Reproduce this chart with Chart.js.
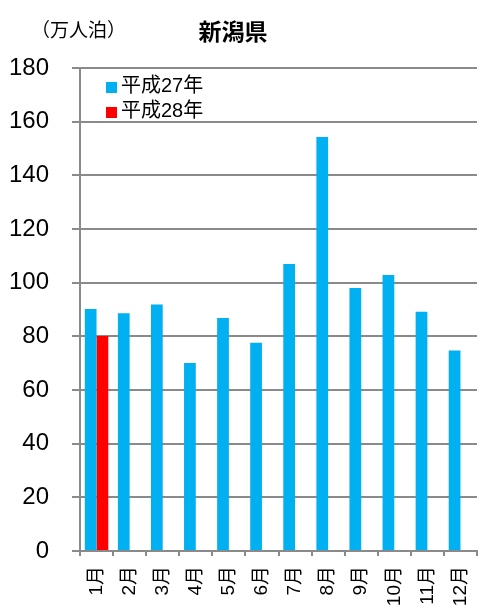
<!DOCTYPE html>
<html lang="ja">
<head>
  <meta charset="UTF-8">
  <title>新潟県</title>
  <script src="https://cdn.jsdelivr.net/npm/chart.js"></script>
  <style>
    html, body { margin: 0; padding: 0; background: #fff; }
    #wrap { width: 480px; height: 606px; position: relative; }
  </style>
</head>
<body>
<div id="wrap"><canvas id="chart" width="480" height="606"></canvas></div>

<script>
  const months = ["1月", "2月", "3月", "4月", "5月", "6月", "7月", "8月", "9月", "10月", "11月", "12月"];
  const h27 = [90.2, 88.6, 91.9, 70.1, 86.8, 77.6, 107.0, 154.3, 98.0, 102.9, 89.2, 74.7];
  const h28 = [80.1, null, null, null, null, null, null, null, null, null, null, null];
  const seriesNames = ["平成27年", "平成28年"];
  const seriesColors = ["#00B0F0", "#FF0000"];
  const yTicks = [0, 20, 40, 60, 80, 100, 120, 140, 160, 180];

  const FONT = "'Liberation Sans', Arial, 'Noto Sans CJK JP', sans-serif";
  const GRID = "#8a8a8a";

  // title, unit label and the legend inside the plot
  const decor = {
    id: "decor",
    afterDraw(chart) {
      const ctx = chart.ctx;
      ctx.save();
      ctx.fillStyle = "#000";
      ctx.textBaseline = "middle";

      ctx.font = "19px " + FONT;
      ctx.textAlign = "left";
      ctx.fillText("（万人泊）", 31, 32);

      ctx.font = "bold 23px " + FONT;
      ctx.textAlign = "center";
      ctx.fillText("新潟県", 233, 34);

      ctx.font = "20px " + FONT;
      ctx.textAlign = "left";
      chart.data.datasets.forEach((ds, i) => {
        const y = 86 + i * 25;
        ctx.fillStyle = ds.backgroundColor;
        ctx.fillRect(106, y - 4, 11, 11);
        ctx.fillStyle = "#000";
        ctx.fillText(ds.label, 121, y);
      });
      ctx.restore();
    }
  };

  new Chart(document.getElementById("chart"), {
    type: "bar",
    data: {
      labels: months,
      datasets: [
        { label: seriesNames[0], data: h27, backgroundColor: seriesColors[0] },
        { label: seriesNames[1], data: h28, backgroundColor: seriesColors[1] }
      ]
    },
    options: {
      responsive: false,
      animation: false,
      layout: { padding: { top: 68, right: 3, left: 0, bottom: 0 } },
      datasets: { bar: { categoryPercentage: 0.71, barPercentage: 1.0 } },
      plugins: {
        legend: { display: false },
        title: { display: false },
        tooltip: { enabled: false }
      },
      scales: {
        x: {
          grid: { drawOnChartArea: false, drawTicks: true, tickLength: 5, color: GRID, lineWidth: 2, offset: true },
          border: { color: GRID, width: 2 },
          ticks: {
            color: "#000",
            font: { family: FONT, size: 19 },
            minRotation: 90,
            maxRotation: 90,
            padding: 10,
            autoSkip: false
          },
          afterFit(scale) {
            scale.height = 55;
            scale.paddingLeft = 0;
            scale.paddingRight = 0;
          }
        },
        y: {
          min: 0,
          max: 180,
          afterBuildTicks(scale) { scale.ticks = yTicks.map(v => ({ value: v })); },
          grid: { color: GRID, lineWidth: 2, tickLength: 8 },
          border: { color: GRID, width: 2 },
          ticks: {
            color: "#000",
            font: { family: FONT, size: 24 },
            padding: 23
          },
          afterFit(scale) {
            scale.width = 80;
            scale.paddingTop = 0;
            scale.paddingBottom = 0;
          }
        }
      }
    },
    plugins: [decor]
  });
</script>
</body>
</html>
